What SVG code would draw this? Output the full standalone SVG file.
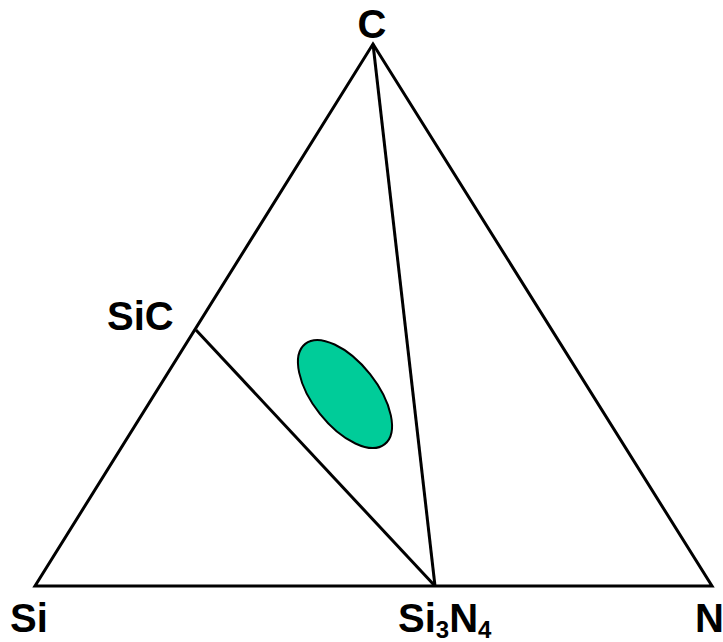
<svg xmlns="http://www.w3.org/2000/svg" width="723" height="642" viewBox="0 0 723 642">
<style>
.ln{fill:none;stroke:#000;stroke-width:3;stroke-linejoin:miter}
.lbl{font-family:"Liberation Sans",Arial,sans-serif;font-weight:bold;fill:#000;font-size:40px}
.sub{font-size:24px}
</style>
<rect width="723" height="642" fill="#fff"/>
<g id="connectors">
<polygon class="ln" points="35,586 712,586 373,44"/>
<line class="ln" x1="373" y1="44" x2="435" y2="586"/>
<line class="ln" x1="196" y1="330" x2="435" y2="586"/>
</g>
<g id="region">
<ellipse cx="345" cy="394" rx="64" ry="32" transform="rotate(51.6 345 394)" fill="#00CC99" stroke="#000" stroke-width="2"/>
</g>
<g id="node-C"><text class="lbl" x="372" y="38" text-anchor="middle">C</text></g>
<g id="node-SiC"><text class="lbl" x="107" y="330">SiC</text></g>
<g id="node-Si"><text class="lbl" x="10" y="632">Si</text></g>
<g id="node-Si3N4"><text class="lbl" x="398" y="632">Si<tspan class="sub" dy="6">3</tspan><tspan dy="-6">N</tspan><tspan class="sub" dy="6">4</tspan></text></g>
<g id="node-N"><text class="lbl" x="695" y="632">N</text></g>
</svg>
